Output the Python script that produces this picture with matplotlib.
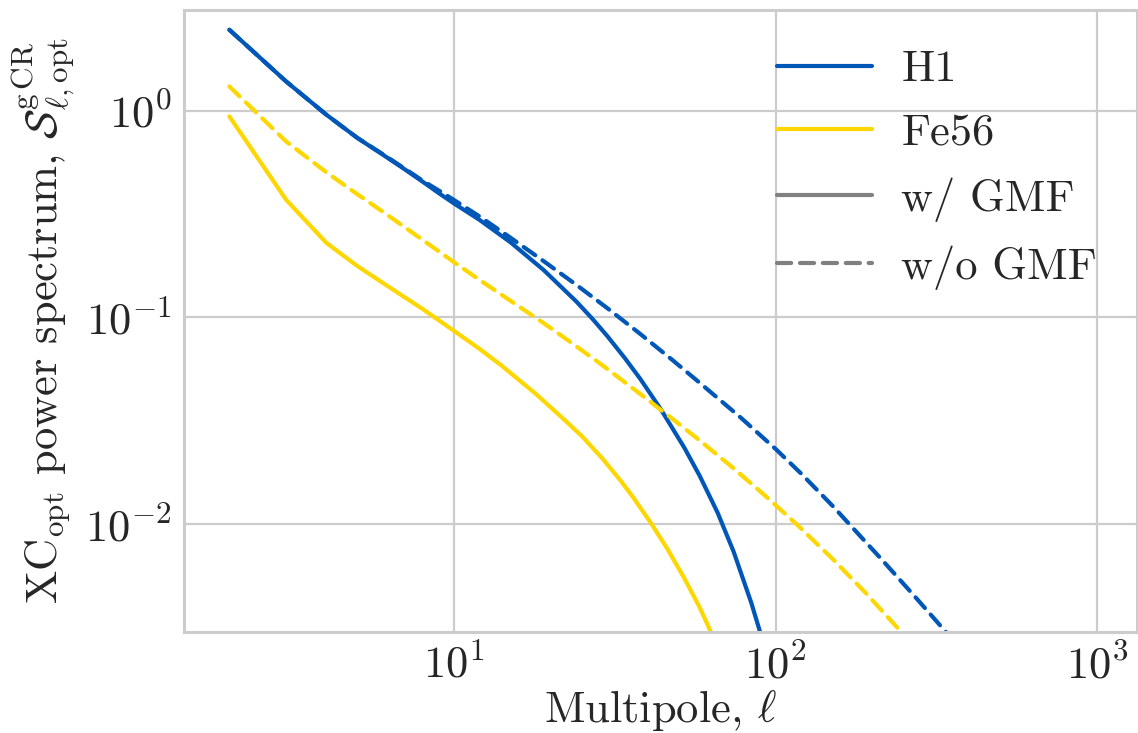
import matplotlib
matplotlib.use("Agg")
import matplotlib.pyplot as plt
from matplotlib.lines import Line2D

plt.rcParams['font.family'] = ['cmr10', 'DejaVu Serif']
plt.rcParams['mathtext.fontset'] = 'cm'
plt.rcParams['axes.formatter.use_mathtext'] = True
plt.rcParams['axes.unicode_minus'] = True
plt.rcParams['lines.dash_capstyle'] = 'round'
plt.rcParams['lines.solid_capstyle'] = 'round'
plt.rcParams['lines.dashed_pattern'] = [3.4, 2.1]

BLUE = '#0057B7'
YELLOW = '#FFD700'
GRAY = '#808080'
TEXT = '#262626'

# H1, with GMF
ell_h1_gmf = [2, 3, 4, 5, 6, 7, 8, 9, 10, 12, 15, 19, 24, 27, 30, 34, 38, 44, 52,
              58, 66, 74, 84, 89, 93]
s_h1_gmf = [2.47, 1.39, 0.96, 0.74, 0.614, 0.523, 0.453, 0.398, 0.356, 0.2966, 0.2306,
            0.1695, 0.1194, 0.098, 0.081, 0.0634, 0.0502, 0.0358, 0.0234, 0.01715,
            0.01134, 0.00735, 0.00415, 0.00308, 0.0024]

# H1, without GMF
ell_h1_nogmf = [2, 3, 4, 5, 6, 7, 8, 9, 10, 12, 15, 19, 24, 30, 38, 48, 58, 78, 100,
                120, 151, 216, 275, 336, 350]
s_h1_nogmf = [2.47, 1.39, 0.96, 0.74, 0.617, 0.527, 0.458, 0.41, 0.37, 0.3083, 0.2428,
              0.1872, 0.1438, 0.1107, 0.083, 0.0618, 0.0483, 0.03267, 0.02307, 0.01755,
              0.01215, 0.00661, 0.00434, 0.00304, 0.00282]

# Fe56, with GMF
ell_fe_gmf = [2, 3, 4, 5, 6, 8, 10, 12, 14, 18, 22, 25, 29, 33, 36, 41, 46, 52, 58,
              62, 65]
s_fe_gmf = [0.94, 0.372, 0.23, 0.1774, 0.147, 0.1096, 0.086, 0.0704, 0.0587, 0.0425,
            0.032, 0.02657, 0.02064, 0.01615, 0.0135, 0.01007, 0.0076, 0.00546, 0.00395,
            0.00315, 0.00265]

# Fe56, without GMF
ell_fe_nogmf = [2, 3, 4, 5, 6, 8, 10, 12, 15, 19, 23, 29, 37, 46, 58, 74, 94, 117,
                151, 192, 244, 255]
s_fe_nogmf = [1.313, 0.712, 0.505, 0.395, 0.325, 0.2368, 0.185, 0.1519, 0.1202, 0.0938,
              0.076, 0.0585, 0.04386, 0.0338, 0.0254, 0.0186, 0.01346, 0.00987, 0.00673,
              0.00458, 0.00304, 0.00281]

fig = plt.figure(figsize=(11.38, 7.33), dpi=100)
ax = fig.add_axes([184 / 1138, 1 - 632 / 733, (1137 - 184) / 1138, (632 - 10) / 733])

lw = 3.0
ax.plot(ell_h1_gmf, s_h1_gmf, color=BLUE, lw=lw, ls='-')
ax.plot(ell_h1_nogmf, s_h1_nogmf, color=BLUE, lw=lw, ls='--')
ax.plot(ell_fe_gmf, s_fe_gmf, color=YELLOW, lw=lw, ls='-')
ax.plot(ell_fe_nogmf, s_fe_nogmf, color=YELLOW, lw=lw, ls='--')

ax.set_xscale('log')
ax.set_yscale('log')
ax.set_xlim(1.445, 1330)
ax.set_ylim(3.0e-3, 3.08)

ax.grid(True, which='major', color='#cccccc', lw=1.6)
ax.grid(False, which='minor')
ax.set_axisbelow(True)
for sp in ax.spines.values():
    sp.set_color('#cccccc')
    sp.set_linewidth(2.2)
ax.tick_params(which='both', length=0, labelsize=32, colors=TEXT, pad=9)
ax.minorticks_off()

ax.set_xlabel(r'Multipole, $\ell$', fontsize=32, color=TEXT, labelpad=0)
ax.set_ylabel(r'XC$_{\rm opt}$ power spectrum, $\mathcal{S}^{\rm g\,CR}_{\ell,{\rm opt}}$',
              fontsize=32, color=TEXT, labelpad=6)

handles = [
    Line2D([], [], color=BLUE, lw=lw, ls='-'),
    Line2D([], [], color=YELLOW, lw=lw, ls='-'),
    Line2D([], [], color=GRAY, lw=lw, ls='-'),
    Line2D([], [], color=GRAY, lw=lw, ls='--'),
]
labels = ['H1', 'Fe56', 'w/ GMF', 'w/o GMF']
ax.legend(handles, labels, loc='upper right', frameon=False, fontsize=32,
          handlelength=2.14, handletextpad=0.65, labelspacing=0.53,
          borderaxespad=0.5, labelcolor=TEXT)

fig.savefig('out.png', dpi=100)
